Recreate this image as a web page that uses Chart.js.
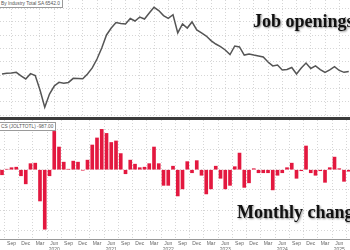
<!DOCTYPE html>
<html>
<head>
<meta charset="utf-8">
<script src="https://cdn.jsdelivr.net/npm/chart.js@4.4.1/dist/chart.umd.min.js"></script>
<style>
  html, body { margin: 0; padding: 0; background: #fff; }
  #wrap { position: relative; width: 350px; height: 250px; overflow: hidden; background: #fff; }
  #topChart { position: absolute; left: 0; top: 0; }
  #sep { position: absolute; left: 0; top: 117px; width: 350px; height: 3px; background: #3c3c3c; }
  #bottomChart { position: absolute; left: 0; top: 120px; }
  .legend {
    position: absolute; white-space: nowrap; background: #fff; color: #555;
    border: 1px solid #9a9a9a; font: 4.8px "Liberation Sans", Arial, sans-serif;
    line-height: 5px; padding: 1px 2px;
  }
  .title {
    position: absolute; white-space: nowrap; color: #111; line-height: 18px;
    font: bold 18px "Liberation Serif", "Times New Roman", serif;
    text-shadow: 1px 1px 2px rgba(0, 0, 0, 0.45);
  }
</style>
</head>
<body>
<div id="wrap">
  <canvas id="topChart" width="350" height="117"></canvas>
  <div id="sep"></div>
  <canvas id="bottomChart" width="350" height="135"></canvas>
  <div class="legend" style="left:-2px; top:-1px;">By Industry Total SA 6542.0</div>
  <div class="legend" style="left:-2px; top:122px;">CS (JOLTTOTL) -987.00</div>
  <div class="title" style="left:253px; top:11px;">Job openings</div>
  <div class="title" style="left:237px; top:202px;">Monthly change</div>
</div>
<script>
// months from Jul 2019, one point per month
const monthNames = ['Jan', 'Feb', 'Mar', 'Apr', 'May', 'Jun', 'Jul', 'Aug', 'Sep', 'Oct', 'Nov', 'Dec'];
const firstYear = 2019;
const firstMonth = 6; // Jul

// job openings, millions
const openings = [
    7.09, 7.14, 7.16, 7.21, 6.94, 6.71, 7.11, 6.97, 5.88, 4.58,
    5.58, 6.18, 6.46, 6.39, 6.45, 6.76, 6.75, 6.73, 7.09, 7.54,
    8.21, 9.04, 10.02, 10.54, 10.96, 10.88, 10.85, 11.26, 11.07, 11.37,
    11.22, 11.67, 12.10, 11.86, 11.48, 11.27, 11.54, 10.17, 10.85, 10.54,
    11.00, 10.40, 10.17, 9.94, 9.60, 9.34, 9.15, 8.89, 8.55, 9.19,
    9.12, 8.51, 8.59, 8.51, 8.44, 8.36, 7.99, 7.69, 7.76, 7.39,
    7.42, 7.57, 7.09, 7.54, 7.91, 7.50, 7.69, 7.42, 7.20, 7.39,
    7.64, 7.35, 7.21, 7.27
];

// monthly change, thousands
const changes = [
    -100, 10, 40, 50, -120, -280, 120, 130, -620, -1180,
    -120, 760, 450, 150, 10, 170, 150, -10, 190, 490,
    630, 800, 720, 540, 570, 320, -80, 190, 110, 40,
    50, 120, 450, 120, -310, -310, 70, -520, -380, 160,
    -60, 180, -110, -480, -380, 70, -170, -380, -310, 60,
    330, -350, -260, 20, -60, -60, -60, -400, -110, -60,
    40, 130, -170, -20, 470, -60, -110, -20, -250, 40,
    250, 20, -230, -30
];

const topGrid = [4, 5, 6, 7, 8, 9, 10, 11, 12];
const bottomGrid = [-1200, -800, -400, 0, 400, 800];

// visible window of the month axis
const xMin = -0.42;
const xMax = 73.26;

const quarterTicks = [];
for (let i = 2; i <= 73; i += 3) quarterTicks.push(i);

function monthLabel(i) {
    const m = (firstMonth + i) % 12;
    const y = firstYear + Math.floor((firstMonth + i) / 12);
    return m === 5 ? [monthNames[m], String(y)] : monthNames[m];
}

const gridStyle = { color: '#d6d6d6', lineWidth: 1, drawTicks: false };
const hiddenBorder = { display: false, dash: [1, 2] };

new Chart(document.getElementById('topChart'), {
    type: 'line',
    data: {
        datasets: [{
            data: openings.map((v, i) => ({ x: i, y: v })),
            borderColor: '#555555',
            borderWidth: 1.5,
            pointRadius: 0,
            tension: 0
        }]
    },
    options: {
        responsive: false,
        animation: false,
        layout: { padding: 0 },
        plugins: { legend: { display: false }, tooltip: { enabled: false } },
        scales: {
            x: {
                type: 'linear', min: xMin, max: xMax,
                afterBuildTicks: axis => { axis.ticks = quarterTicks.map(v => ({ value: v })); },
                ticks: { display: false },
                grid: gridStyle,
                border: hiddenBorder
            },
            y: {
                min: 3.85, max: 12.65,
                afterBuildTicks: axis => { axis.ticks = topGrid.map(v => ({ value: v })); },
                ticks: { display: false },
                grid: gridStyle,
                border: hiddenBorder
            }
        }
    }
});

new Chart(document.getElementById('bottomChart'), {
    type: 'bar',
    data: {
        datasets: [{
            data: changes.map((v, i) => ({ x: i, y: v })),
            backgroundColor: '#e3183f',
            barThickness: 3
        }]
    },
    options: {
        responsive: false,
        animation: false,
        layout: { padding: 0 },
        plugins: { legend: { display: false }, tooltip: { enabled: false } },
        scales: {
            x: {
                type: 'linear', min: xMin, max: xMax, offset: false,
                afterBuildTicks: axis => { axis.ticks = quarterTicks.map(v => ({ value: v })); },
                ticks: {
                    autoSkip: false, maxRotation: 0, padding: 2,
                    color: '#666', font: { size: 5, family: 'Liberation Sans' },
                    callback: v => monthLabel(v)
                },
                grid: gridStyle,
                border: { display: true, color: '#999', dash: [1, 2] }
            },
            y: {
                min: -1374, max: 986,
                afterBuildTicks: axis => { axis.ticks = bottomGrid.map(v => ({ value: v })); },
                ticks: { display: false },
                grid: gridStyle,
                border: hiddenBorder
            }
        }
    }
});
</script>
</body>
</html>
